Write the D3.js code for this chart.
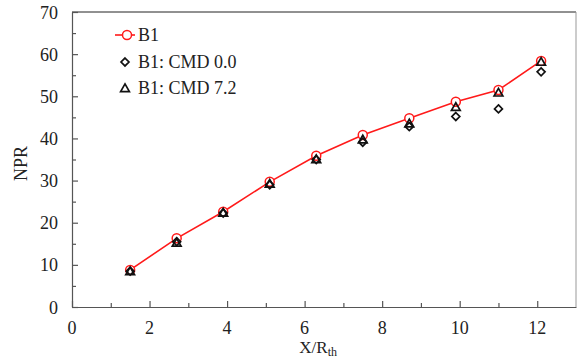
<!DOCTYPE html>
<html>
<head>
<meta charset="utf-8">
<script src="https://cdn.jsdelivr.net/npm/d3@7"></script>
<style>
  body { margin: 0; background: #fff; }
</style>
</head>
<body>
<div id="chart"></div>
<script>
// data
var xPos = [1.5, 2.7, 3.9, 5.1, 6.3, 7.5, 8.7, 9.9, 11.0, 12.1];
var b1 = [8.8, 16.3, 22.6, 29.7, 35.9, 40.8, 44.8, 48.7, 51.5, 58.4];
var cmd00 = [8.5, 15.5, 22.3, 29.0, 35.0, 39.1, 42.8, 45.2, 47.0, 55.8];
var cmd72 = [8.5, 15.3, 22.4, 29.3, 35.1, 39.8, 43.6, 47.5, 50.9, 58.2];
var xTicks = [0, 2, 4, 6, 8, 10, 12];
var yTicks = [0, 10, 20, 30, 40, 50, 60, 70];
var legendNames = ["B1", "B1: CMD 0.0", "B1: CMD 7.2"];

var W = 577, H = 358;
var margin = {top: 12, right: 1, bottom: 51, left: 72};
var serif = "'Liberation Serif', 'Times New Roman', Times, serif";

var svg = d3.select("#chart").append("svg")
  .attr("width", W)
  .attr("height", H)
  .style("font-family", serif);

var x = d3.scaleLinear().domain([0, 13]).range([margin.left, W - margin.right]);
var y = d3.scaleLinear().domain([0, 70]).range([H - margin.bottom, margin.top]);

// frame
svg.append("line").attr("x1", x(0)).attr("x2", x(13)).attr("y1", y(70)).attr("y2", y(70))
  .attr("stroke", "#222").attr("stroke-width", 1);
svg.append("line").attr("x1", x(13)).attr("x2", x(13)).attr("y1", y(70)).attr("y2", y(0))
  .attr("stroke", "#999").attr("stroke-width", 1);

// x axis, ticks inward
var xAxis = svg.append("g")
  .attr("transform", "translate(0," + y(0) + ")")
  .call(d3.axisBottom(x).tickValues(d3.range(0, 13, 1)).tickSize(-5).tickSizeOuter(0).tickFormat(""));
xAxis.selectAll(".tick line").attr("y2", function (d) { return d % 2 === 0 ? -6 : -4; });
xAxis.selectAll("path, line").attr("stroke", "#555").attr("stroke-width", 1.2);

svg.selectAll(".xlab").data(xTicks).enter().append("text")
  .attr("x", d => x(d))
  .attr("y", y(0) + 27)
  .attr("text-anchor", "middle")
  .attr("fill", "#222")
  .style("font-size", "18px")
  .text(d => d);

// y axis, ticks inward
var yAxis = svg.append("g")
  .attr("transform", "translate(" + x(0) + ",0)")
  .call(d3.axisLeft(y).tickValues(d3.range(0, 75, 5)).tickSize(-5).tickSizeOuter(0).tickFormat(""));
yAxis.selectAll(".tick line").attr("x2", function (d) { return d % 10 === 0 ? 6 : 4; });
yAxis.selectAll("path, line").attr("stroke", "#555").attr("stroke-width", 1.2);

svg.selectAll(".ylab").data(yTicks).enter().append("text")
  .attr("x", x(0) - 14)
  .attr("y", d => y(d) + 6.5)
  .attr("text-anchor", "end")
  .attr("fill", "#222")
  .style("font-size", "18px")
  .text(d => d);

// axis titles
svg.append("text")
  .attr("transform", "translate(27," + ((y(0) + y(70)) / 2 + 4) + ") rotate(-90)")
  .attr("text-anchor", "middle")
  .attr("fill", "#222")
  .style("font-size", "18px")
  .text("NPR");

var xt = svg.append("text")
  .attr("x", x(6.35))
  .attr("y", H - 5)
  .attr("text-anchor", "middle")
  .attr("fill", "#222")
  .style("font-size", "17px");
xt.append("tspan").text("X/R");
xt.append("tspan").attr("dy", 3).style("font-size", "12px").text("th");

// symbols
var diamond = d3.symbol().type(d3.symbolDiamond2).size(40);
var triangle = d3.symbol().type(d3.symbolTriangle2).size(55);

function drawDiamonds(g, xs, ys) {
  g.selectAll(null).data(xs).enter().append("path")
    .attr("transform", (d, i) => "translate(" + x(d) + "," + y(ys[i]) + ")")
    .attr("d", diamond)
    .attr("fill", "none").attr("stroke", "#111").attr("stroke-width", 1.7);
}
function drawTriangles(g, xs, ys) {
  g.selectAll(null).data(xs).enter().append("path")
    .attr("transform", (d, i) => "translate(" + x(d) + "," + (y(ys[i]) + 1) + ")")
    .attr("d", triangle)
    .attr("fill", "none").attr("stroke", "#111").attr("stroke-width", 1.7);
}

// B1 line and circles
var line = d3.line().x((d, i) => x(xPos[i])).y(d => y(d));
svg.append("path").datum(b1)
  .attr("d", line)
  .attr("fill", "none")
  .attr("stroke", "#ff1a1a")
  .attr("stroke-width", 1.6);

svg.selectAll(".b1").data(b1).enter().append("circle")
  .attr("cx", (d, i) => x(xPos[i]))
  .attr("cy", d => y(d))
  .attr("r", 4.5)
  .attr("fill", "#fff")
  .attr("stroke", "#ff1a1a")
  .attr("stroke-width", 1.5);

drawDiamonds(svg.append("g"), xPos, cmd00);
drawTriangles(svg.append("g"), xPos, cmd72);

// legend
var lg = svg.append("g");
var ly = [35, 62, 88];
lg.append("line").attr("x1", 115).attr("x2", 135).attr("y1", ly[0]).attr("y2", ly[0])
  .attr("stroke", "#ff1a1a").attr("stroke-width", 1.6);
lg.append("circle").attr("cx", 127).attr("cy", ly[0]).attr("r", 4.5)
  .attr("fill", "#fff").attr("stroke", "#ff1a1a").attr("stroke-width", 1.5);
lg.append("path").attr("transform", "translate(125," + ly[1] + ")").attr("d", diamond)
  .attr("fill", "none").attr("stroke", "#111").attr("stroke-width", 1.7);
lg.append("path").attr("transform", "translate(125," + (ly[2] + 1) + ")").attr("d", triangle)
  .attr("fill", "none").attr("stroke", "#111").attr("stroke-width", 1.7);
lg.selectAll(".lgt").data(legendNames).enter().append("text")
  .attr("x", 138)
  .attr("y", (d, i) => ly[i] + 6)
  .attr("fill", "#222")
  .style("font-size", "18px")
  .text(d => d);
</script>
</body>
</html>
